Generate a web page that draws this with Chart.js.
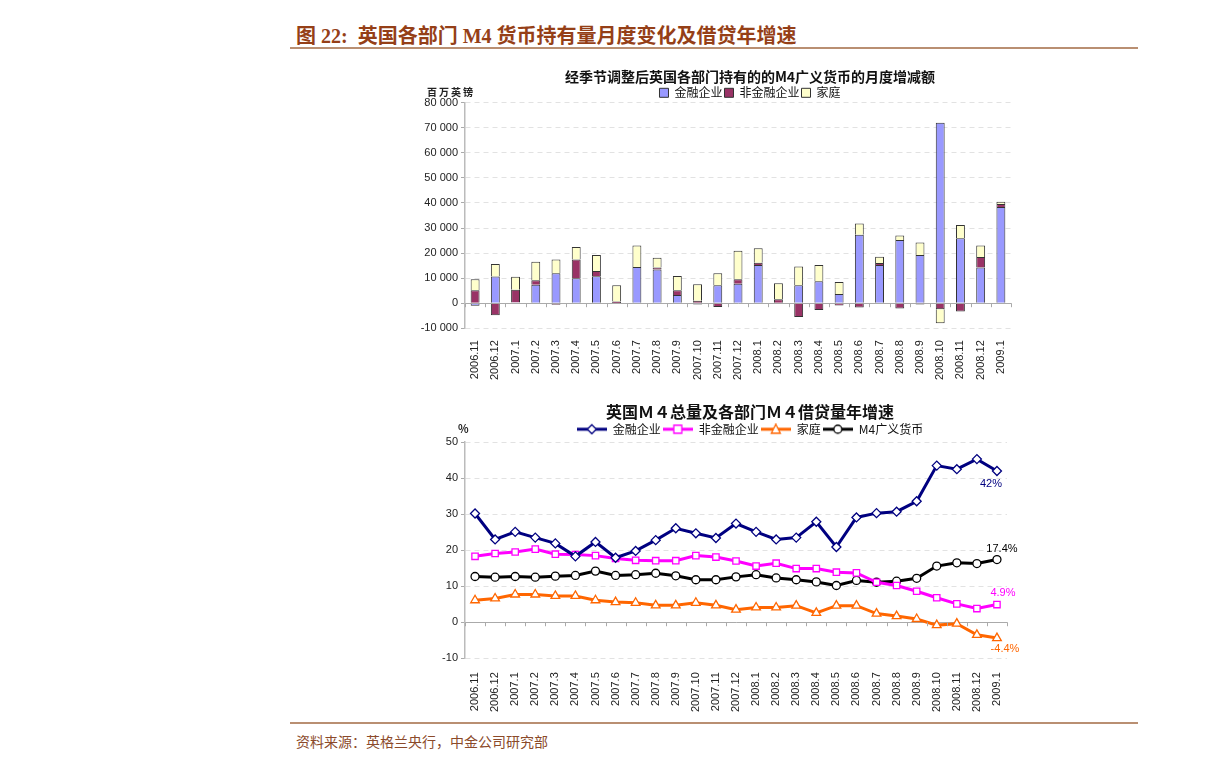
<!DOCTYPE html>
<html>
<head>
<meta charset="utf-8">
<script src="https://cdn.jsdelivr.net/npm/chart.js@4.4.1/dist/chart.umd.min.js"></script>
<style>
  body { margin:0; width:1224px; height:769px; background:#fff; position:relative; overflow:hidden; font-family:"Noto Sans CJK SC", sans-serif; }
  #title { position:absolute; left:296px; top:20px; font-weight:bold; font-size:20px; font-family:"Liberation Serif","Noto Sans CJK SC",serif; color:#953f17; white-space:nowrap; }
  .rule { position:absolute; left:290px; width:848px; height:0; border-top:2px solid #b98f72; }
  #src { position:absolute; left:296px; top:731px; font-size:14px; color:#8b4a2a; white-space:nowrap; }
  .box { position:absolute; }
  .unit { position:absolute; font-size:10px; font-weight:bold; color:#222; white-space:nowrap; }
</style>
</head>
<body>
<div id="title">图 22:&nbsp; 英国各部门 M4 货币持有量月度变化及借贷年增速</div>
<div class="rule" style="top:47px"></div>

<div class="box" style="left:400px;top:60px;width:700px;height:324px"><canvas id="bar-chart"></canvas></div>
<div class="unit" style="left:427px;top:84px;letter-spacing:2px">百万英镑</div>

<div class="box" style="left:400px;top:397px;width:700px;height:321px"><canvas id="line-chart"></canvas></div>
<div class="unit" style="left:458px;top:420px;font-size:11px">%</div>

<div class="rule" style="top:722px"></div>
<div id="src">资料来源：英格兰央行，中金公司研究部</div>

<script>
// ---- data ----
const MONTHS = ['2006.11','2006.12','2007.1','2007.2','2007.3','2007.4','2007.5','2007.6','2007.7','2007.8',
  '2007.9','2007.10','2007.11','2007.12','2008.1','2008.2','2008.3','2008.4','2008.5','2008.6',
  '2008.7','2008.8','2008.9','2008.10','2008.11','2008.12','2009.1'];

// monthly change, GBP mn
const FIN_CHG    = [-1000, 10700, 300, 7400, 12000, 10000, 10800, 100, 14400, 13400, 3300, -500, 7200, 7800,
  15200, 0, 7200, 8800, 3700, 27300, 15200, 25200, 19200, 72000, 25900, 14200, 38400];
const NONFIN_CHG = [5200, -4800, 5100, 1800, -600, 7450, 2100, 600, 0, 800, 1900, 1000, -1500, 1800,
  900, 1600, -5500, -2700, -950, -1750, 800, -2150, -500, -2400, -3350, 4200, 1200];
const HOUSE_CHG  = [4400, 4900, 5200, 7300, 5450, 4950, 6300, 6500, 8650, 3900, 5700, 6600, 4800, 11300,
  5800, 6400, 7450, 6400, 4800, 4550, 2500, 1850, 5050, -5600, 5350, 4650, 900];

// annual growth, %
const FIN_YOY    = [30.2, 23.0, 25.1, 23.5, 21.9, 18.3, 22.3, 17.9, 19.8, 22.8, 26.1, 24.7, 23.4, 27.4,
  25.1, 23.0, 23.5, 27.9, 20.9, 29.1, 30.3, 30.7, 33.6, 43.5, 42.5, 45.3, 42.0];
const NONFIN_YOY = [18.3, 19.1, 19.5, 20.3, 18.9, 18.8, 18.5, 17.7, 17.2, 17.1, 17.1, 18.5, 18.1, 17.0,
  15.6, 16.4, 14.9, 14.9, 13.9, 13.7, 11.1, 10.2, 8.6, 6.8, 5.1, 3.8, 4.9];
const HOUSE_YOY  = [6.1, 6.6, 7.7, 7.7, 7.3, 7.3, 6.1, 5.6, 5.4, 4.7, 4.7, 5.4, 4.7, 3.5,
  4.1, 4.1, 4.6, 2.6, 4.6, 4.6, 2.4, 1.7, 0.9, -0.8, -0.4, -3.5, -4.4];
const M4_YOY     = [12.7, 12.5, 12.7, 12.5, 12.8, 13.0, 14.2, 13.0, 13.2, 13.6, 12.9, 11.8, 11.8, 12.6,
  13.2, 12.3, 11.8, 11.2, 10.2, 11.6, 11.1, 11.4, 12.2, 15.6, 16.5, 16.3, 17.4];

const TICK_FONT = { family: '"Liberation Sans", Arial, sans-serif', size: 11 };
const CJK = '"Noto Sans CJK SC", sans-serif';

const fmtThousands = v => String(v).replace(/\B(?=(\d{3})+(?!\d))/g, ' ');
const dashed = ctx => (ctx.tick && ctx.tick.value === 0) ? [] : [5, 4];
const gridCol = ctx => (ctx.tick && ctx.tick.value === 0) ? '#aaa' : '#e2e2e2';

// empty right-hand axis, only there so the title/legend centre sits where the original has it
const spacerAxis = w => ({
  position: 'right', display: true,
  grid: { display: false, drawTicks: false }, border: { display: false },
  ticks: { display: false },
  afterFit: s => { s.width = w; },
});

// small tick marks under the zero line at category boundaries
const zeroTicks = {
  id: 'zeroTicks',
  afterDraw(chart) {
    const x = chart.scales.x, y = chart.scales.y, ctx = chart.ctx;
    const y0 = y.getPixelForValue(0);
    const half = (x.getPixelForValue(1) - x.getPixelForValue(0)) / 2;
    ctx.save();
    ctx.strokeStyle = '#aaa';
    ctx.lineWidth = 1;
    for (let i = 0; i <= MONTHS.length; i++) {
      const px = Math.round(x.getPixelForValue(i) - half) + 0.5;
      ctx.beginPath(); ctx.moveTo(px, y0); ctx.lineTo(px, y0 + 4); ctx.stroke();
    }
    ctx.restore();
  }
};

// ---- bar chart ----
new Chart(document.getElementById('bar-chart'), {
  type: 'bar',
  data: {
    labels: MONTHS,
    datasets: [
      { label: '金融企业',   data: FIN_CHG,    backgroundColor: '#9999FF' },
      { label: '非金融企业', data: NONFIN_CHG, backgroundColor: '#993366' },
      { label: '家庭',       data: HOUSE_CHG,  backgroundColor: '#FFFFCC' },
    ].map(d => Object.assign(d, { borderColor: '#333', borderWidth: 1, categoryPercentage: 1, barPercentage: 0.44 })),
  },
  options: {
    responsive: true,
    maintainAspectRatio: false,
    animation: false,
    layout: { padding: { left: 0, right: 0, top: 3, bottom: 0 } },
    plugins: {
      title: { display: true, text: '经季节调整后英国各部门持有的的M4广义货币的月度增减额', color: '#111',
        font: { family: CJK, size: 14, weight: 'bold' }, padding: { top: 5, bottom: 0 } },
      legend: { maxHeight: 18,
        labels: { color: '#111', font: { family: CJK, size: 12 }, boxWidth: 9, boxHeight: 9, padding: 2 } },
      tooltip: { enabled: false },
    },
    scales: {
      x: {
        stacked: true,
        grid: { display: false },
        border: { display: false },
        ticks: { color: '#222', font: TICK_FONT, minRotation: 90, maxRotation: 90, autoSkip: false, padding: 4 },
      },
      y: {
        stacked: true,
        min: -10000, max: 80000,
        afterFit: s => { s.width = 65; },
        border: { color: '#bbb', width: 1.5, dash: dashed },
        grid: { color: gridCol, tickColor: '#aaa', tickLength: 4 },
        ticks: { stepSize: 10000, color: '#222', font: TICK_FONT, padding: 3, callback: v => fmtThousands(v) },
      },
      pad: spacerAxis(89),
    },
  },
  plugins: [zeroTicks],
});

// ---- line chart ----
function legendIcon(color, style) {
  const c = document.createElement('canvas');
  c.width = 30; c.height = 12;
  const g = c.getContext('2d');
  g.strokeStyle = color; g.lineWidth = 3;
  g.beginPath(); g.moveTo(0, 6); g.lineTo(30, 6); g.stroke();
  g.fillStyle = '#fff'; g.lineWidth = 1.3;
  g.beginPath();
  if (style === 'rectRot') { g.moveTo(15, 1.5); g.lineTo(19.5, 6); g.lineTo(15, 10.5); g.lineTo(10.5, 6); g.closePath(); }
  else if (style === 'rect') { g.rect(11, 2, 8, 8); }
  else if (style === 'triangle') { g.moveTo(15, 1); g.lineTo(19.5, 10); g.lineTo(10.5, 10); g.closePath(); }
  else { g.arc(15, 6, 4, 0, Math.PI * 2); }
  g.fill(); g.stroke();
  return c;
}

const SERIES = [
  { label: '金融企业',   data: FIN_YOY,    color: '#000080', style: 'rectRot',  radius: 4.5, end: v => v.toFixed(0) + '%', dx: -6, dy: 13 },
  { label: '非金融企业', data: NONFIN_YOY, color: '#FF00FF', style: 'rect',     radius: 4.5, end: v => v.toFixed(1) + '%', dx: 6,  dy: -12 },
  { label: '家庭',       data: HOUSE_YOY,  color: '#FF6600', style: 'triangle', radius: 5,   end: v => v.toFixed(1) + '%', dx: 8,  dy: 11 },
  { label: 'M4广义货币', data: M4_YOY,     color: '#000000', style: 'circle',   radius: 4,   end: v => v.toFixed(1) + '%', dx: 5,  dy: -11 },
];

const endLabels = {
  id: 'endLabels',
  afterDatasetsDraw(chart) {
    const ctx = chart.ctx;
    SERIES.forEach((s, i) => {
      const meta = chart.getDatasetMeta(i);
      const pt = meta.data[meta.data.length - 1];
      const v = s.data[s.data.length - 1];
      ctx.save();
      ctx.font = '11px "Liberation Sans", Arial, sans-serif';
      ctx.fillStyle = s.color;
      ctx.textAlign = 'center';
      ctx.textBaseline = 'middle';
      ctx.fillText(s.end(v), pt.x + s.dx, pt.y + s.dy);
      ctx.restore();
    });
  }
};

new Chart(document.getElementById('line-chart'), {
  type: 'line',
  data: {
    labels: MONTHS,
    datasets: SERIES.map(s => ({
      label: s.label,
      data: s.data,
      borderColor: s.color,
      backgroundColor: '#fff',
      borderWidth: 3,
      pointStyle: s.style,
      pointRadius: s.radius,
      pointBorderWidth: 1.3,
      pointBackgroundColor: '#fff',
      pointBorderColor: s.color,
      tension: 0,
    })),
  },
  options: {
    responsive: true,
    maintainAspectRatio: false,
    animation: false,
    layout: { padding: { left: 0, right: 0, top: 3, bottom: 0 } },
    plugins: {
      title: { display: true, text: '英国Ｍ４总量及各部门Ｍ４借贷量年增速', color: '#111',
        font: { family: CJK, size: 16, weight: 'bold' }, padding: { top: 2, bottom: 0 } },
      legend: {
        maxHeight: 21,
        labels: {
          color: '#111', font: { family: CJK, size: 12 }, padding: 2, usePointStyle: true,
          pointStyleWidth: 30, boxHeight: 12,
          generateLabels: chart => SERIES.map((s, i) => ({
            text: s.label, fontColor: '#111', pointStyle: legendIcon(s.color, s.style),
            datasetIndex: i, hidden: false, lineWidth: 0,
          })),
        },
      },
      tooltip: { enabled: false },
    },
    scales: {
      x: {
        offset: true,
        grid: { display: false },
        border: { display: false },
        ticks: { color: '#222', font: TICK_FONT, minRotation: 90, maxRotation: 90, autoSkip: false, padding: 6 },
      },
      y: {
        min: -10, max: 50,
        afterFit: s => { s.width = 65; },
        border: { color: '#bbb', width: 1.5, dash: dashed },
        grid: { color: gridCol, tickColor: '#aaa', tickLength: 4 },
        ticks: { stepSize: 10, color: '#222', font: TICK_FONT, padding: 3 },
      },
      pad: spacerAxis(93),
    },
  },
  plugins: [zeroTicks, endLabels],
});
</script>
</body>
</html>
